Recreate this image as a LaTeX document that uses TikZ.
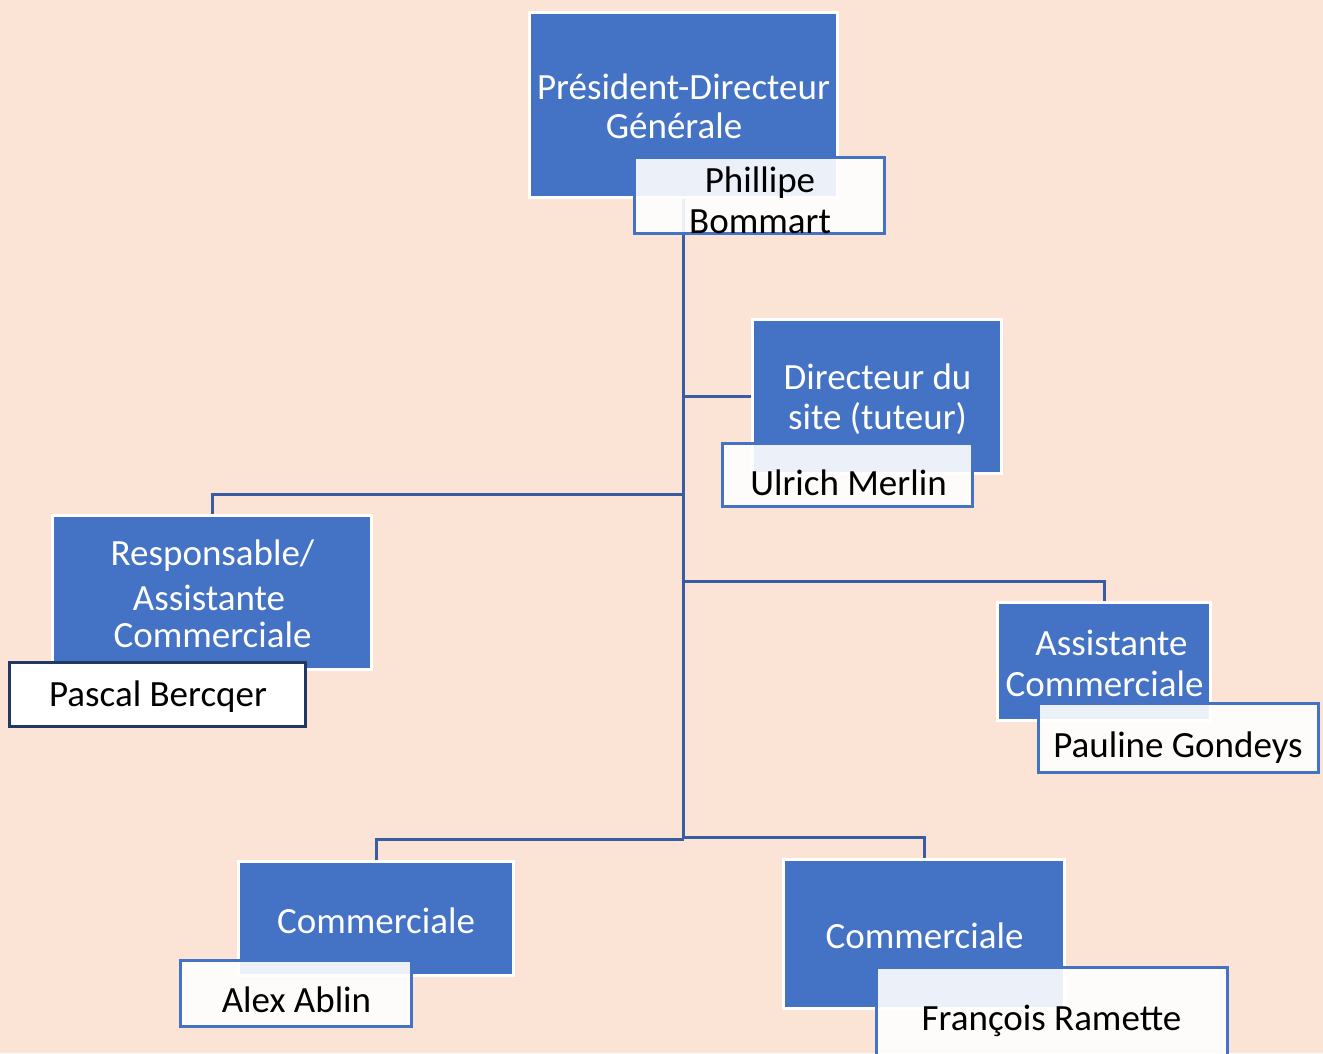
\documentclass[tikz,border=0pt]{standalone}
\usepackage{fontspec}
\setmainfont{Carlito}
\definecolor{bgc}{HTML}{FBE3D5}
\definecolor{boxblue}{HTML}{4472C4}
\definecolor{conncol}{HTML}{3A5CA3}
\definecolor{navy}{HTML}{203864}
\begin{document}
\begin{tikzpicture}[x=1pt,y=-1pt,
  bluebox/.style={rectangle,fill=boxblue,draw=white,line width=3pt,inner sep=0pt},
  namebox/.style={rectangle,fill=white,fill opacity=0.9,draw=boxblue,draw opacity=1,line width=3pt,inner sep=0pt},
  namedark/.style={rectangle,fill=white,draw=navy,line width=3pt,inner sep=0pt},
  conn/.style={draw=conncol,line width=3pt},
  ttl/.style={anchor=base,inner sep=0pt,text=white,font=\fontsize{37}{41}\selectfont},
  nm/.style={anchor=base,inner sep=0pt,text=black,font=\fontsize{37}{41}\selectfont}]
\useasboundingbox (0,0) rectangle (1323,1053);
\fill[bgc] (0,0) rectangle (1323,1053);

% blue boxes
\node[bluebox,minimum width=308pt,minimum height=185pt] (b1) at (683.5,105) {};
\node[bluebox,minimum width=249pt,minimum height=154pt] (b2) at (877,396.5) {};
\node[bluebox,minimum width=319pt,minimum height=154pt] (b3) at (212,592.5) {};
\node[bluebox,minimum width=213pt,minimum height=118pt] (b4) at (1104,661.5) {};
\node[bluebox,minimum width=275pt,minimum height=114pt] (b5) at (376,918.5) {};
\node[bluebox,minimum width=281pt,minimum height=149pt] (b6) at (924,934) {};

% junctions on the trunk
\coordinate (j2) at (683.5,396.5);
\coordinate (j3) at (683.5,494);
\coordinate (j4) at (683.5,581);
\coordinate (j5) at (683.5,839);
\coordinate (j6) at (683.5,837);

% connectors
\draw[conn] (b1.south) -- (j5);
\draw[conn] (j2) -- (b2.west);
\draw[conn] (j3) -| (b3.north);
\draw[conn] (j4) -| (b4.north);
\draw[conn] (j5) -| (b5.north);
\draw[conn] (j6) -| (b6.north);

% name boxes
\node[namebox,minimum width=250pt,minimum height=76pt] (n1) at (759.5,195.5) {};
\node[namebox,minimum width=250pt,minimum height=63pt] (n2) at (847.5,475) {};
\node[namedark,minimum width=296pt,minimum height=64pt] (n3) at (157.5,694.5) {};
\node[namebox,minimum width=280pt,minimum height=69pt] (n4) at (1178.5,738) {};
\node[namebox,minimum width=231pt,minimum height=66pt] (n5) at (296,993.5) {};
\node[namebox,minimum width=351pt,minimum height=100pt] (n6) at (1052,1017) {};

% texts
\node[ttl] (t1a) at (683.5,99) {Président-Directeur};
\node[ttl] (t1b) at (674,138) {Générale};
\node[nm] (m1a) at (760,192) {Phillipe};
\node[nm] (m1b) at (760,233) {Bommart};
\node[ttl] (t2a) at (877.5,389) {Directeur du};
\node[ttl] (t2b) at (877.5,429) {site (tuteur)};
\node[nm] (m2) at (848.5,495) {Ulrich Merlin};
\node[ttl] (t3a) at (212.5,565) {Responsable/};
\node[ttl] (t3b) at (209,610) {Assistante};
\node[ttl] (t3c) at (212.5,647) {Commerciale};
\node[nm] (m3) at (158,706) {Pascal Bercqer};
\node[ttl] (t4a) at (1111.5,655) {Assistante};
\node[ttl] (t4b) at (1104.5,696) {Commerciale};
\node[nm] (m4) at (1178,757) {Pauline Gondeys};
\node[ttl] (t5) at (376,933) {Commerciale};
\node[nm] (m5) at (296.5,1012) {Alex Ablin};
\node[ttl] (t6) at (924.5,948) {Commerciale};
\node[nm] (m6) at (1051.5,1030) {François Ramette};
\end{tikzpicture}
\end{document}
